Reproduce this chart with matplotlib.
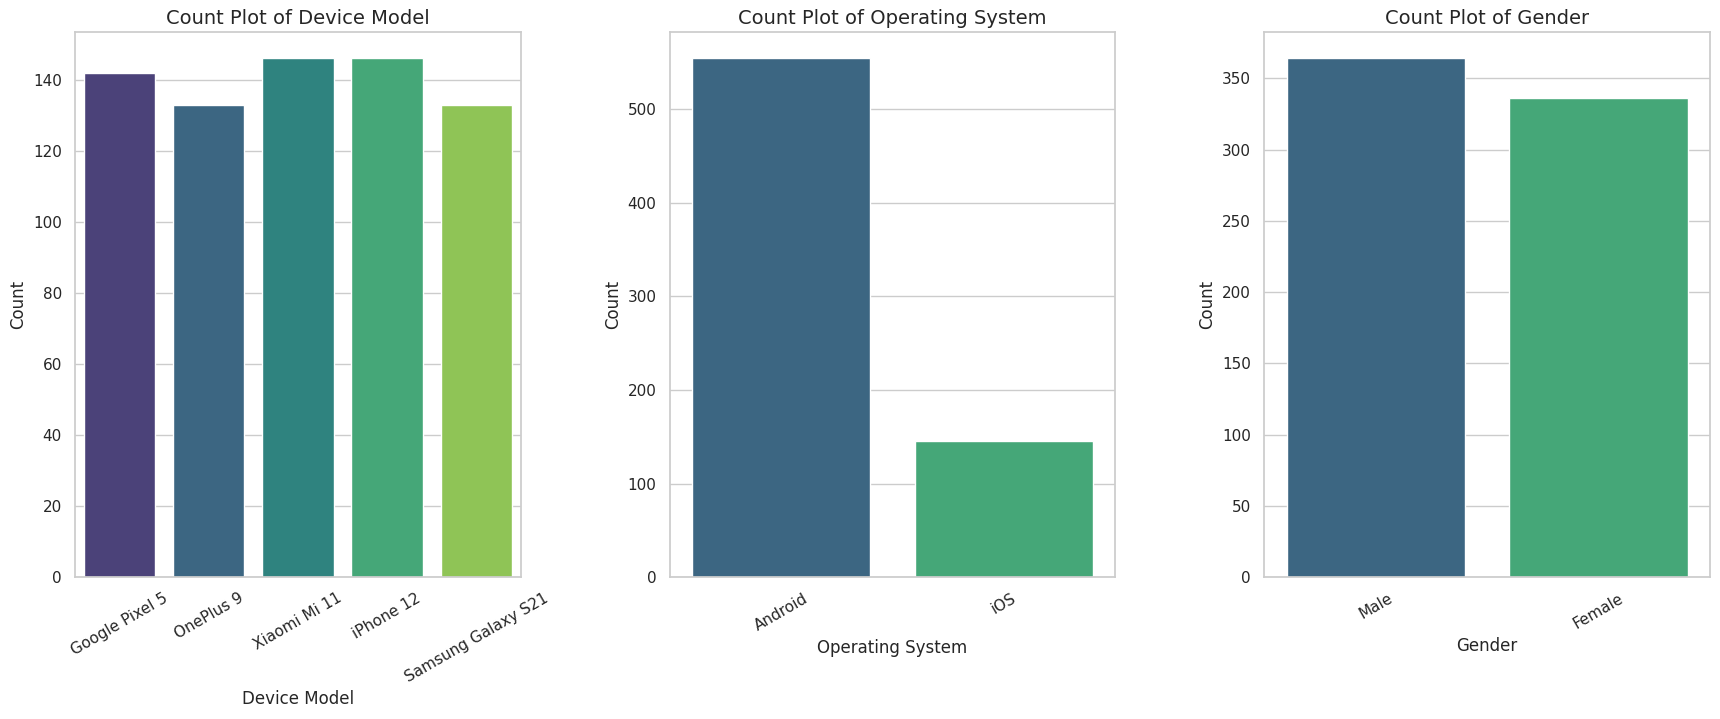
import matplotlib
matplotlib.use("Agg")
import matplotlib.pyplot as plt
import seaborn as sns
import pandas as pd

device_models = ["Google Pixel 5", "OnePlus 9", "Xiaomi Mi 11", "iPhone 12", "Samsung Galaxy S21"]
device_counts = [142, 133, 146, 146, 133]

os_names = ["Android", "iOS"]
os_counts = [554, 146]

genders = ["Male", "Female"]
gender_counts = [364, 336]

sns.set_theme(style="whitegrid")

panels = [
    ("Device Model", device_models, device_counts),
    ("Operating System", os_names, os_counts),
    ("Gender", genders, gender_counts),
]

fig, axes = plt.subplots(1, 3, figsize=(17.2, 7.19))

for ax, (name, cats, counts) in zip(axes, panels):
    df = pd.DataFrame({name: cats, "Count": counts})
    sns.barplot(data=df, x=name, y="Count", hue=name, palette="viridis",
                legend=False, saturation=0.75, ax=ax)
    ax.set_title(f"Count Plot of {name}", fontsize=14)
    ax.set_xlabel(name, fontsize=12)
    ax.set_ylabel("Count", fontsize=12)
    ax.tick_params(axis="x", rotation=30, labelsize=11)
    ax.tick_params(axis="y", labelsize=11)

plt.subplots_adjust(left=0.0436, right=0.9942, top=0.955, bottom=0.197, wspace=0.334)
plt.savefig("out.png", dpi=100)
